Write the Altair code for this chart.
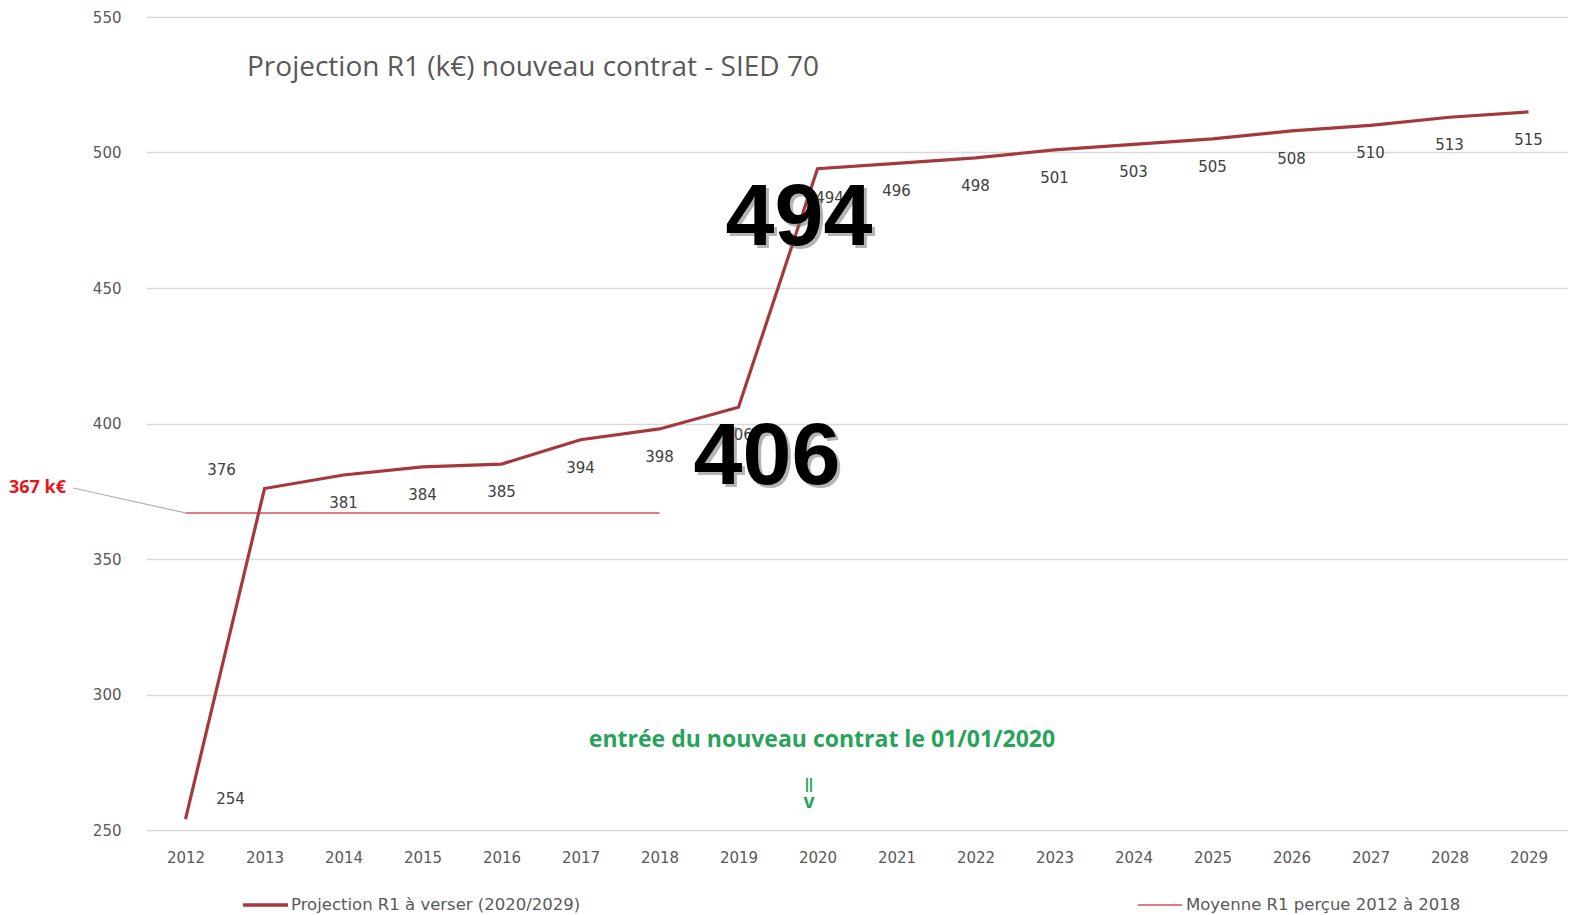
import altair as alt
import pandas as pd

years = list(range(2012, 2030))
projection = [254, 376, 381, 384, 385, 394, 398, 406, 494, 496, 498, 501, 503, 505, 508, 510, 513, 515]
avg_years = list(range(2012, 2019))
avg_value = 367

title_text = "Projection R1 (k€) nouveau contrat - SIED 70"
note_text = "entrée du nouveau contrat le 01/01/2020"
legend_main = "Projection R1 à verser (2020/2029)"
legend_avg = "Moyenne R1 perçue 2012 à 2018"
avg_label = "367 k€"
big_labels = ["494", "406"]

df_main = pd.DataFrame({"year": [str(y) for y in years], "yr": years, "value": projection})
df_avg = pd.DataFrame({"year": [str(y) for y in avg_years], "value": [avg_value] * len(avg_years)})

MAIN = "#a5383b"
AVG = "#dc7f80"
GRAY = "#595959"
FONT = "DejaVu Sans"
GREEN = "#27a35a"

xenc = alt.X("year:O", scale=alt.Scale(type="point", padding=0.5),
             axis=alt.Axis(title=None, labelAngle=0, labelFontSize=15, labelColor=GRAY,
                           labelFont=FONT, labelPadding=20, ticks=False, tickSize=0,
                           domain=False, grid=False))
yenc = alt.Y("value:Q", scale=alt.Scale(domain=[250, 550], nice=False, zero=False),
             axis=alt.Axis(title=None, values=[250, 300, 350, 400, 450, 500, 550],
                           labelFontSize=15, labelColor=GRAY, labelFont=FONT,
                           labelPadding=25, ticks=False, tickSize=0, domain=False,
                           gridColor="#d9d9d9", gridWidth=1.5))

base = alt.Chart(df_main)

avg_line = alt.Chart(df_avg).mark_line(color=AVG, strokeWidth=2).encode(x=xenc, y=yenc)
main_line = base.mark_line(color=MAIN, strokeWidth=3.2).encode(x=xenc, y=yenc)

lbl_kw = dict(fontSize=15, font=FONT, color="#404040")
labels_main = base.transform_filter("datum.yr >= 2014 && datum.yr != 2020").mark_text(
    dy=28, **lbl_kw).encode(x=xenc, y=yenc, text="value:Q")
labels_2020 = base.transform_filter("datum.yr == 2020").mark_text(
    dy=29, dx=12, **lbl_kw).encode(x=xenc, y=yenc, text="value:Q")
labels_2013 = base.transform_filter("datum.yr == 2013").mark_text(
    dy=-19, dx=-43, **lbl_kw).encode(x=xenc, y=yenc, text="value:Q")
labels_2012 = base.transform_filter("datum.yr == 2012").mark_text(
    dy=-20, dx=45, **lbl_kw).encode(x=xenc, y=yenc, text="value:Q")

# connector for the 367 k€ label
conn_df = pd.DataFrame({"year": [str(avg_years[0])], "value": [avg_value]})
connector = alt.Chart(conn_df).mark_rule(color="#b0b0b0", strokeWidth=1.2).encode(
    x=xenc, y=yenc, x2=alt.value(-73), y2=alt.value(471))
avg_txt = alt.Chart(pd.DataFrame({"t": [avg_label]})).mark_text(
    align="right", baseline="middle", fontSize=18, fontWeight="bold", color="#e8141c",
    font="Open Sans").encode(x=alt.value(-80), y=alt.value(471), text="t:N")

def txt(s, x, y, **kw):
    return alt.Chart(pd.DataFrame({"t": [s]})).mark_text(**kw).encode(
        x=alt.value(x), y=alt.value(y), text="t:N")

title = txt(title_text, 101, 51, align="left", baseline="middle", fontSize=28,
            font="Open Sans", color=GRAY)
note = txt(note_text, 676, 723, align="center", baseline="middle", fontSize=23,
           font="Open Sans", fontWeight="bold", color=GREEN)
arrow1 = txt("||", 663, 768, align="center", baseline="middle", fontSize=14,
             font="Liberation Sans", fontWeight="bold", color=GREEN)
arrow2 = txt("v", 663, 785, align="center", baseline="middle", fontSize=20,
             font="Liberation Sans", fontWeight="bold", color=GREEN)

big_kw = dict(align="center", baseline="middle", fontSize=88, font="Liberation Sans",
              fontWeight="bold")
big494_s = txt(big_labels[0], 656, 205, color="#777777", opacity=0.55, **big_kw)
big494 = txt(big_labels[0], 653, 202, color="#000000", **big_kw)
big406_s = txt(big_labels[1], 624, 444, color="#777777", opacity=0.55, **big_kw)
big406 = txt(big_labels[1], 621, 441, color="#000000", **big_kw)

# legend
leg_y = 888
leg1_line = alt.Chart(pd.DataFrame({"a": [0]})).mark_rule(color=MAIN, strokeWidth=3.5).encode(
    x=alt.value(97), x2=alt.value(142), y=alt.value(leg_y))
leg1_txt = txt(legend_main, 145, leg_y, align="left", baseline="middle", fontSize=16.5,
               font=FONT, color=GRAY)
leg2_line = alt.Chart(pd.DataFrame({"a": [0]})).mark_rule(color=AVG, strokeWidth=2).encode(
    x=alt.value(992), x2=alt.value(1036), y=alt.value(leg_y))
leg2_txt = txt(legend_avg, 1040, leg_y, align="left", baseline="middle", fontSize=16.5,
               font=FONT, color=GRAY)

chart = alt.layer(
    avg_line, connector, main_line,
    labels_main, labels_2020, labels_2013, labels_2012,
    avg_txt, title, note, arrow1, arrow2,
    big494_s, big494, big406_s, big406,
    leg1_line, leg1_txt, leg2_line, leg2_txt,
).properties(
    width=1422, height=813,
    padding={"left": 138, "top": 9, "right": 0, "bottom": 88},
    autosize=alt.AutoSizeParams(type="none"),
    background="white",
).configure_view(stroke=None)

chart.save("out.html", embed_options={"renderer": "svg", "actions": False})
